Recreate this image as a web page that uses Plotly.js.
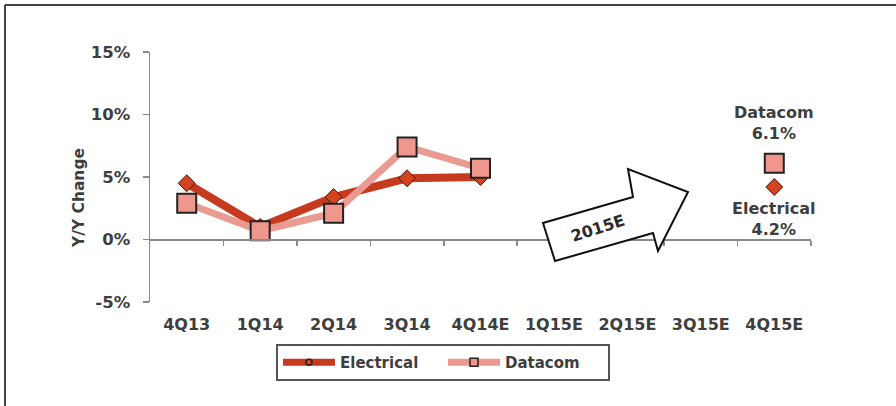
<!DOCTYPE html>
<html>
<head>
<meta charset="utf-8">
<script src="https://cdn.plot.ly/plotly-3.0.1.min.js"></script>
<style>
  html, body { margin: 0; padding: 0; background: #fff; }
  #chart { width: 896px; height: 406px; }
</style>
</head>
<body>
<div id="chart"></div>
<script>
// ---- data ----
const quarters = ["4Q13", "1Q14", "2Q14", "3Q14", "4Q14E", "1Q15E", "2Q15E", "3Q15E", "4Q15E"];
const electrical = [4.5, 1.0, 3.4, 4.9, 5.0, null, null, null, 4.2];
const datacom = [2.9, 0.7, 2.1, 7.4, 5.7, null, null, null, 6.1];
const seriesNames = ["Electrical", "Datacom"];
const yTicks = [-5, 0, 5, 10, 15];
const arrowLabel = "2015E";
const yTitle = "Y/Y Change";

// ---- layout geometry ----
const W = 896, H = 406;
const M = { l: 150, r: 85, t: 52, b: 104 };
const L = M.l, R = W - M.r, T = M.t, B = H - M.b;
const px = X => (X - L) / (R - L);
const py = Y => (B - Y) / (B - T);

const FONT = "DejaVu Sans, Verdana, sans-serif";
const TXT = "#3e3e3e";
const ELEC_LINE = "#C63B1F", ELEC_FILL = "#D4431F";
const DATA_LINE = "#EA9A90", DATA_FILL = "#EF978C";

const lastIdx = quarters.length - 1;
const bold = s => "<b>" + s + "</b>";

const traces = [
  {
    x: quarters, y: electrical, name: seriesNames[0], type: "scatter", mode: "lines+markers",
    connectgaps: false, showlegend: false, hoverinfo: "skip",
    line: { color: ELEC_LINE, width: 8 },
    marker: { symbol: "diamond", size: 13, color: ELEC_FILL, line: { color: "#4a1508", width: 1 } }
  },
  {
    x: quarters, y: datacom, name: seriesNames[1], type: "scatter", mode: "lines+markers",
    connectgaps: false, showlegend: false, hoverinfo: "skip",
    line: { color: DATA_LINE, width: 7 },
    marker: { symbol: "square", size: 19, color: DATA_FILL, line: { color: "#222", width: 2 } }
  },
  // legend-only entries (small markers as in the reference legend)
  {
    x: [null], y: [null], name: bold(seriesNames[0]), type: "scatter", mode: "lines+markers",
    line: { color: ELEC_LINE, width: 7 },
    marker: { symbol: "circle", size: 6, color: ELEC_FILL, line: { color: "#222", width: 1.5 } }
  },
  {
    x: [null], y: [null], name: bold(seriesNames[1]), type: "scatter", mode: "lines+markers",
    line: { color: DATA_LINE, width: 7 },
    marker: { symbol: "square", size: 8, color: DATA_FILL, line: { color: "#222", width: 1.5 } }
  },
  // helper trace for the zero-line axis with boundary ticks
  {
    x: [0], y: [null], xaxis: "x2", yaxis: "y", type: "scatter", mode: "markers",
    showlegend: false, hoverinfo: "skip"
  }
];

const boundaryTicks = quarters.map((q, i) => i + 0.5);

// arrow outline (decoration, pixel positions converted to paper)
const arrowPts = [[555, 261], [543, 223], [633, 197], [628, 169], [688, 192], [658, 251], [653, 233]];
const arrowPath = "M " + arrowPts.map(p => px(p[0]) + "," + py(p[1])).join(" L ") + " Z";

const layout = {
  width: W, height: H,
  margin: M,
  paper_bgcolor: "#ffffff",
  plot_bgcolor: "#ffffff",
  font: { family: FONT, size: 16.5, color: TXT },
  showlegend: true,
  legend: {
    orientation: "h",
    x: px(443), xanchor: "center",
    y: py(344), yanchor: "top",
    bordercolor: "#555", borderwidth: 2,
    bgcolor: "#fff",
    itemwidth: 52,
    entrywidth: 98,
    font: { family: FONT, size: 15, color: TXT }
  },
  xaxis: {
    type: "category",
    categoryorder: "array", categoryarray: quarters,
    range: [-0.5, quarters.length - 0.5],
    showgrid: false, zeroline: false, showline: false,
    ticks: "", ticklabelstandoff: 11,
    tickvals: quarters, ticktext: quarters.map(bold),
    tickfont: { family: FONT, size: 16, color: TXT },
    fixedrange: true
  },
  xaxis2: {
    overlaying: "x", anchor: "free", position: py(239),
    range: [-0.5, quarters.length - 0.5],
    tickvals: boundaryTicks, showticklabels: false,
    ticks: "outside", ticklen: 5, tickwidth: 1.5, tickcolor: "#8a8a8a",
    showline: true, linecolor: "#8a8a8a", linewidth: 1.5,
    showgrid: false, zeroline: false, fixedrange: true
  },
  yaxis: {
    range: [-5, 15],
    tickvals: yTicks, ticktext: yTicks.map(v => bold(v + "%")),
    showgrid: false, zeroline: false,
    showline: true, linecolor: "#8a8a8a", linewidth: 1.5,
    ticks: "outside", ticklen: 6, tickwidth: 1.5, tickcolor: "#8a8a8a",
    ticklabelstandoff: 9,
    tickfont: { family: FONT, size: 16.5, color: TXT },
    fixedrange: true
  },
  shapes: [
    { type: "path", xref: "paper", yref: "paper", path: arrowPath,
      fillcolor: "#ffffff", line: { color: "#111", width: 2 }, layer: "above" },
    // frame lines (top and left) of the original picture
    { type: "line", xref: "paper", yref: "paper", x0: px(5), x1: px(896), y0: py(5), y1: py(5),
      line: { color: "#444", width: 2 } },
    { type: "line", xref: "paper", yref: "paper", x0: px(5), x1: px(5), y0: py(5), y1: py(406),
      line: { color: "#444", width: 2 } }
  ],
  annotations: [
    { xref: "paper", yref: "paper", x: px(79), y: py(198), xanchor: "center", yanchor: "middle",
      text: bold(yTitle), textangle: -90,
      showarrow: false, font: { family: FONT, size: 15.5, color: TXT } },
    { xref: "paper", yref: "paper", x: px(597), y: py(228), xanchor: "center", yanchor: "middle",
      text: bold(arrowLabel), textangle: -18,
      showarrow: false, font: { family: FONT, size: 16, color: "#2a2a2a" } },
    { xref: "x", yref: "y", x: quarters[lastIdx], y: datacom[lastIdx], xanchor: "center",
      text: bold(seriesNames[1]) + "<br>" + bold(datacom[lastIdx].toFixed(1) + "%"),
      showarrow: false, yanchor: "bottom", yshift: 18,
      font: { family: FONT, size: 16, color: TXT } },
    { xref: "x", yref: "y", x: quarters[lastIdx], y: electrical[lastIdx], xanchor: "center",
      text: bold(seriesNames[0]) + "<br>" + bold(electrical[lastIdx].toFixed(1) + "%"),
      showarrow: false, yanchor: "top", yshift: -10,
      font: { family: FONT, size: 16, color: TXT } }
  ]
};

Plotly.newPlot("chart", traces, layout, { staticPlot: true, displayModeBar: false });
</script>
</body>
</html>
